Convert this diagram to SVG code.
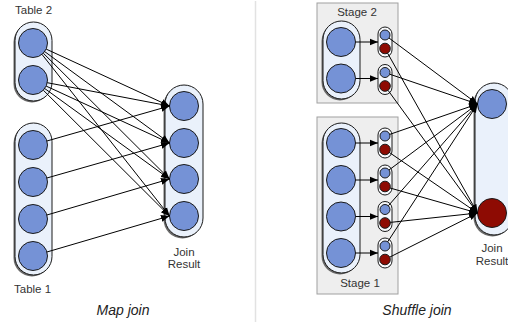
<svg xmlns="http://www.w3.org/2000/svg" width="508" height="326" viewBox="0 0 508 326">
<defs>
<marker id="arr" markerUnits="userSpaceOnUse" markerWidth="9" markerHeight="8" refX="8.5" refY="4" orient="auto">
<path d="M0,0.5 L8.5,4 L0,7.5 z" fill="#000"/>
</marker>
<style>
.cap{fill:#eaf1fb;stroke:#1a1a1a;stroke-width:1}
.shd{fill:#6a6a6a}
.b{fill:#7592d6;stroke:#1a1a1a;stroke-width:1}
.r{fill:#8e0b03;stroke:#1a1a1a;stroke-width:1}
.sc{fill:#f6f8fb;stroke:#1a1a1a;stroke-width:1}
.stage{fill:#eeeeee;stroke:#a0a0a0;stroke-width:1}
.lbl{font-family:"Liberation Sans",Arial,sans-serif;font-size:11.5px;fill:#333}
.ttl{font-family:"Liberation Sans",Arial,sans-serif;font-size:14px;font-style:italic;fill:#222}
#edges line{stroke:#000;stroke-width:1;fill:none;marker-end:url(#arr)}
</style>
</defs>
<rect width="508" height="326" fill="#fff"/>
<line x1="255.5" y1="1" x2="255.5" y2="322" stroke="#e2e2e2" stroke-width="1.5"/>

<!-- Map join -->
<g id="table2">
<rect class="shd" x="13.5" y="23.5" width="37" height="79" rx="18.5"/>
<rect class="cap" x="15" y="22" width="37" height="79" rx="18.5"/>
<circle class="b" cx="33" cy="43" r="14.5"/>
<circle class="b" cx="33" cy="80" r="14.5"/>
<text class="lbl" x="15" y="13.5">Table 2</text>
</g>
<g id="table1">
<rect class="shd" x="13.5" y="124.5" width="37" height="152" rx="18.5"/>
<rect class="cap" x="15" y="123" width="37" height="152" rx="18.5"/>
<circle class="b" cx="33" cy="145" r="14.5"/>
<circle class="b" cx="33" cy="182" r="14.5"/>
<circle class="b" cx="33" cy="219" r="14.5"/>
<circle class="b" cx="33" cy="256" r="14.5"/>
<text class="lbl" x="14" y="293">Table 1</text>
</g>
<g id="result1">
<rect class="shd" x="163.5" y="86.5" width="38" height="152" rx="19"/>
<rect class="cap" x="165" y="85" width="38" height="152" rx="19"/>
<circle class="b" cx="184" cy="106" r="14.5"/>
<circle class="b" cx="184" cy="143" r="14.5"/>
<circle class="b" cx="184" cy="179" r="14.5"/>
<circle class="b" cx="184" cy="216" r="14.5"/>
<text class="lbl" x="184" y="256" text-anchor="middle">Join</text>
<text class="lbl" x="184" y="268" text-anchor="middle">Result</text>
</g>
<text class="ttl" x="123" y="315" text-anchor="middle">Map join</text>

<!-- Shuffle join -->
<g id="stage2">
<rect class="stage" x="317" y="3" width="81" height="100"/>
<text class="lbl" x="357" y="15.5" text-anchor="middle">Stage 2</text>
<rect class="shd" x="321.5" y="22.5" width="37" height="78" rx="18.5"/>
<rect class="cap" x="323" y="21" width="37" height="78" rx="18.5"/>
<circle class="b" cx="341" cy="42" r="14.5"/>
<circle class="b" cx="341" cy="78.5" r="14.5"/>
<rect class="sc" x="378" y="27" width="14" height="30" rx="7"/>
<circle class="b" cx="385" cy="35" r="5"/>
<circle class="r" cx="385" cy="48.5" r="5.3"/>
<rect class="sc" x="378" y="64.5" width="14" height="30" rx="7"/>
<circle class="b" cx="385" cy="72.5" r="5"/>
<circle class="r" cx="385" cy="86" r="5.3"/>
</g>
<g id="stage1">
<rect class="stage" x="317" y="117" width="81" height="177"/>
<text class="lbl" x="360" y="287" text-anchor="middle">Stage 1</text>
<rect class="shd" x="321.5" y="124.5" width="37" height="150" rx="18.5"/>
<rect class="cap" x="323" y="123" width="37" height="150" rx="18.5"/>
<circle class="b" cx="341" cy="143" r="14.5"/>
<circle class="b" cx="341" cy="180" r="14.5"/>
<circle class="b" cx="341" cy="216.5" r="14.5"/>
<circle class="b" cx="341" cy="253" r="14.5"/>
<rect class="sc" x="378" y="128" width="14" height="30" rx="7"/>
<circle class="b" cx="385" cy="136" r="5"/>
<circle class="r" cx="385" cy="149.5" r="5.3"/>
<rect class="sc" x="378" y="165" width="14" height="30" rx="7"/>
<circle class="b" cx="385" cy="173" r="5"/>
<circle class="r" cx="385" cy="186.5" r="5.3"/>
<rect class="sc" x="378" y="201.5" width="14" height="30" rx="7"/>
<circle class="b" cx="385" cy="209.5" r="5"/>
<circle class="r" cx="385" cy="223" r="5.3"/>
<rect class="sc" x="378" y="238" width="14" height="30" rx="7"/>
<circle class="b" cx="385" cy="246" r="5"/>
<circle class="r" cx="385" cy="259.5" r="5.3"/>
</g>
<g id="result2">
<rect class="shd" x="473.5" y="84.5" width="38" height="152" rx="19"/>
<rect class="cap" x="475" y="83" width="38" height="152" rx="19"/>
<circle class="b" cx="492" cy="104" r="14.5"/>
<circle class="r" cx="492" cy="213" r="14.5"/>
<text class="lbl" x="492" y="252" text-anchor="middle">Join</text>
<text class="lbl" x="492" y="265" text-anchor="middle">Result</text>
</g>
<text class="ttl" x="417" y="315" text-anchor="middle">Shuffle join</text>

<g id="edges">
<!-- map join: table 2 to all results -->
<line x1="46.2" y1="49.1" x2="169.5" y2="106"/>
<line x1="44.7" y1="51.6" x2="169.5" y2="143"/>
<line x1="43.3" y1="53.2" x2="169.5" y2="179"/>
<line x1="42.0" y1="54.4" x2="169.5" y2="216"/>
<line x1="47.2" y1="82.7" x2="169.5" y2="106"/>
<line x1="46.2" y1="86.1" x2="169.5" y2="143"/>
<line x1="44.7" y1="88.5" x2="169.5" y2="179"/>
<line x1="43.3" y1="90.2" x2="169.5" y2="216"/>
<!-- map join: table 1 one-to-one -->
<line x1="46.9" y1="141" x2="169.5" y2="106"/>
<line x1="46.9" y1="178" x2="169.5" y2="143"/>
<line x1="46.9" y1="215" x2="169.5" y2="179"/>
<line x1="46.9" y1="252" x2="169.5" y2="216"/>
<!-- shuffle: big circles to partitions -->
<line x1="355.5" y1="42" x2="378" y2="42"/>
<line x1="355.5" y1="78.5" x2="378" y2="78.5"/>
<line x1="355.5" y1="143" x2="378" y2="143"/>
<line x1="355.5" y1="180" x2="378" y2="180"/>
<line x1="355.5" y1="216.5" x2="378" y2="216.5"/>
<line x1="355.5" y1="253" x2="378" y2="253"/>
<!-- shuffle: blue partitions -->
<line x1="389.0" y1="38.0" x2="477.5" y2="104"/>
<line x1="389.7" y1="74.2" x2="477.5" y2="104"/>
<line x1="389.7" y1="134.4" x2="477.5" y2="104"/>
<line x1="389.0" y1="170.0" x2="477.5" y2="104"/>
<line x1="388.3" y1="205.8" x2="477.5" y2="104"/>
<line x1="387.7" y1="241.8" x2="477.5" y2="104"/>
<!-- shuffle: red partitions -->
<line x1="387.6" y1="53.2" x2="477.5" y2="213"/>
<line x1="388.1" y1="90.4" x2="477.5" y2="213"/>
<line x1="389.4" y1="152.5" x2="477.5" y2="213"/>
<line x1="390.1" y1="188.0" x2="477.5" y2="213"/>
<line x1="390.3" y1="222.4" x2="477.5" y2="213"/>
<line x1="389.8" y1="257.1" x2="477.5" y2="213"/>
</g>
</svg>
